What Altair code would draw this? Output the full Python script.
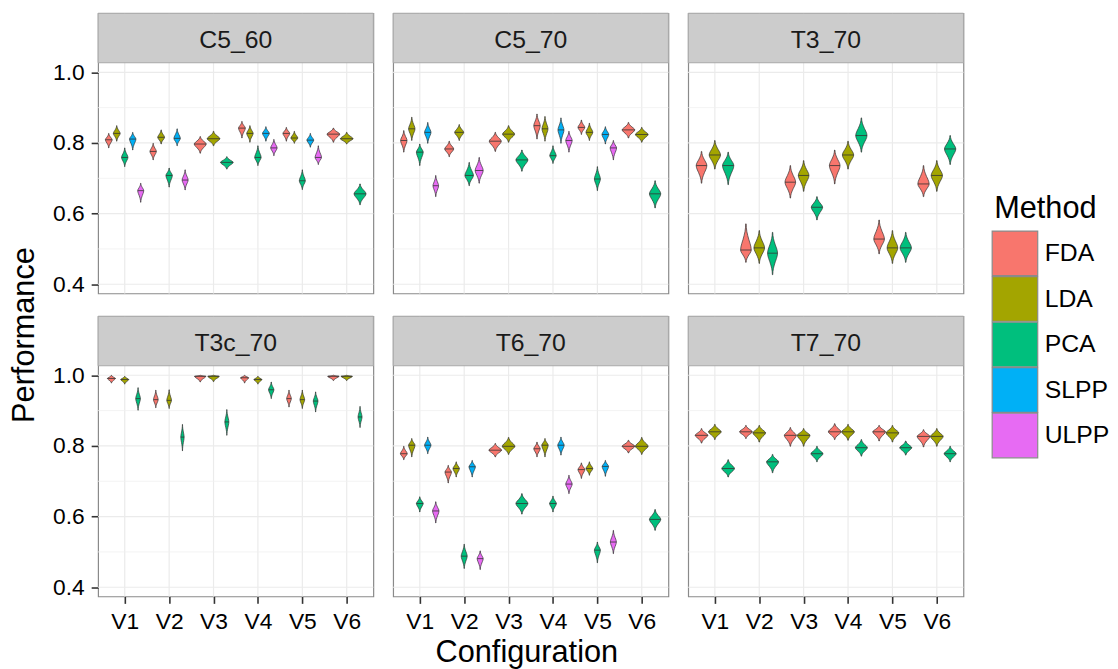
import altair as alt
import pandas as pd

methods = ["FDA", "LDA", "PCA", "SLPP", "ULPP"]
method_colors = ["#F8766D", "#A3A500", "#00BF7D", "#00B0F6", "#E76BF3"]
configs = ["V1", "V2", "V3", "V4", "V5", "V6"]
panels = ["C5_60", "C5_70", "T3_70", "T3c_70", "T6_70", "T7_70"]
y_ticks = [0.4, 0.6, 0.8, 1.0]
y_minor = [0.5, 0.7, 0.9]

# (configuration, method, lower end, median, upper end, relative peak density)
c5_60 = [
    ("V1", "FDA", 0.786, 0.809, 0.827, 0.85), ("V1", "LDA", 0.805, 0.827, 0.849, 0.85),
    ("V1", "PCA", 0.733, 0.759, 0.786, 0.8), ("V1", "SLPP", 0.780, 0.811, 0.830, 0.8),
    ("V1", "ULPP", 0.632, 0.665, 0.686, 0.75),
    ("V2", "FDA", 0.752, 0.776, 0.799, 0.8), ("V2", "LDA", 0.797, 0.816, 0.837, 0.85),
    ("V2", "PCA", 0.675, 0.708, 0.729, 0.8), ("V2", "SLPP", 0.792, 0.813, 0.840, 0.8),
    ("V2", "ULPP", 0.667, 0.695, 0.724, 0.75),
    ("V3", "FDA", 0.771, 0.797, 0.818, 0.9), ("V3", "LDA", 0.792, 0.812, 0.833, 0.95),
    ("V3", "PCA", 0.726, 0.745, 0.761, 0.95),
    ("V4", "FDA", 0.814, 0.842, 0.861, 0.85), ("V4", "LDA", 0.802, 0.827, 0.849, 0.8),
    ("V4", "PCA", 0.736, 0.759, 0.792, 0.8), ("V4", "SLPP", 0.805, 0.827, 0.846, 0.85),
    ("V4", "ULPP", 0.764, 0.786, 0.810, 0.8),
    ("V5", "FDA", 0.805, 0.827, 0.844, 0.85), ("V5", "LDA", 0.799, 0.814, 0.833, 0.85),
    ("V5", "PCA", 0.668, 0.693, 0.724, 0.75), ("V5", "SLPP", 0.788, 0.808, 0.827, 0.85),
    ("V5", "ULPP", 0.739, 0.759, 0.792, 0.8),
    ("V6", "FDA", 0.802, 0.825, 0.842, 0.95), ("V6", "LDA", 0.797, 0.812, 0.830, 0.95),
    ("V6", "PCA", 0.625, 0.656, 0.684, 0.9),
]
c5_70 = [
    ("V1", "FDA", 0.774, 0.807, 0.835, 0.8), ("V1", "LDA", 0.807, 0.840, 0.873, 0.8),
    ("V1", "PCA", 0.736, 0.774, 0.797, 0.85), ("V1", "SLPP", 0.799, 0.830, 0.858, 0.8),
    ("V1", "ULPP", 0.648, 0.679, 0.708, 0.7),
    ("V2", "FDA", 0.761, 0.783, 0.805, 0.9), ("V2", "LDA", 0.807, 0.830, 0.852, 0.9),
    ("V2", "PCA", 0.679, 0.708, 0.745, 0.85), ("V2", "ULPP", 0.686, 0.722, 0.759, 0.8),
    ("V3", "FDA", 0.776, 0.805, 0.830, 0.9), ("V3", "LDA", 0.802, 0.825, 0.849, 0.9),
    ("V3", "PCA", 0.720, 0.752, 0.780, 0.9),
    ("V4", "FDA", 0.811, 0.849, 0.882, 0.8), ("V4", "LDA", 0.805, 0.840, 0.875, 0.75),
    ("V4", "PCA", 0.742, 0.764, 0.792, 0.8), ("V4", "SLPP", 0.799, 0.837, 0.871, 0.75),
    ("V4", "ULPP", 0.774, 0.807, 0.833, 0.8),
    ("V5", "FDA", 0.824, 0.844, 0.865, 0.85), ("V5", "LDA", 0.807, 0.830, 0.856, 0.85),
    ("V5", "PCA", 0.665, 0.698, 0.733, 0.75), ("V5", "SLPP", 0.797, 0.824, 0.846, 0.85),
    ("V5", "ULPP", 0.752, 0.786, 0.807, 0.8),
    ("V6", "FDA", 0.814, 0.837, 0.858, 0.95), ("V6", "LDA", 0.802, 0.824, 0.844, 0.95),
    ("V6", "PCA", 0.616, 0.656, 0.693, 0.85),
]
t3_70 = [
    ("V1", "FDA", 0.686, 0.736, 0.776, 0.8), ("V1", "LDA", 0.726, 0.766, 0.807, 0.85),
    ("V1", "PCA", 0.682, 0.736, 0.774, 0.85),
    ("V2", "FDA", 0.462, 0.497, 0.571, 0.8), ("V2", "LDA", 0.459, 0.503, 0.552, 0.8),
    ("V2", "PCA", 0.427, 0.488, 0.547, 0.75),
    ("V3", "FDA", 0.644, 0.689, 0.736, 0.8), ("V3", "LDA", 0.663, 0.708, 0.750, 0.8),
    ("V3", "PCA", 0.582, 0.618, 0.648, 0.85),
    ("V4", "FDA", 0.684, 0.736, 0.780, 0.8), ("V4", "LDA", 0.726, 0.766, 0.805, 0.85),
    ("V4", "PCA", 0.774, 0.821, 0.871, 0.85),
    ("V5", "FDA", 0.486, 0.528, 0.582, 0.8), ("V5", "LDA", 0.459, 0.503, 0.552, 0.8),
    ("V5", "PCA", 0.462, 0.503, 0.547, 0.85),
    ("V6", "FDA", 0.648, 0.684, 0.736, 0.85), ("V6", "LDA", 0.663, 0.708, 0.750, 0.85),
    ("V6", "PCA", 0.739, 0.783, 0.821, 0.85),
]
t3c_70 = [
    ("V1", "FDA", 0.978, 0.991, 1.000, 0.6), ("V1", "LDA", 0.975, 0.988, 0.997, 0.6),
    ("V1", "PCA", 0.901, 0.934, 0.965, 0.35),
    ("V2", "FDA", 0.908, 0.931, 0.958, 0.35), ("V2", "LDA", 0.906, 0.929, 0.959, 0.35),
    ("V2", "PCA", 0.786, 0.825, 0.861, 0.25),
    ("V3", "FDA", 0.981, 0.997, 1.000, 0.85), ("V3", "LDA", 0.982, 0.997, 1.000, 0.85),
    ("V3", "PCA", 0.830, 0.868, 0.903, 0.3),
    ("V4", "FDA", 0.978, 0.993, 1.000, 0.6), ("V4", "LDA", 0.975, 0.988, 0.997, 0.6),
    ("V4", "PCA", 0.934, 0.959, 0.981, 0.4),
    ("V5", "FDA", 0.910, 0.934, 0.958, 0.35), ("V5", "LDA", 0.906, 0.931, 0.958, 0.35),
    ("V5", "PCA", 0.896, 0.927, 0.953, 0.35),
    ("V6", "FDA", 0.985, 0.997, 1.000, 0.85), ("V6", "LDA", 0.985, 0.997, 1.000, 0.85),
    ("V6", "PCA", 0.852, 0.882, 0.912, 0.3),
]
t6_70 = [
    ("V1", "FDA", 0.761, 0.778, 0.799, 0.85), ("V1", "LDA", 0.769, 0.802, 0.821, 0.8),
    ("V1", "PCA", 0.613, 0.637, 0.656, 0.85), ("V1", "SLPP", 0.778, 0.802, 0.825, 0.8),
    ("V1", "ULPP", 0.582, 0.616, 0.642, 0.8),
    ("V2", "FDA", 0.695, 0.726, 0.745, 0.8), ("V2", "LDA", 0.712, 0.736, 0.755, 0.8),
    ("V2", "PCA", 0.453, 0.488, 0.522, 0.75), ("V2", "SLPP", 0.712, 0.741, 0.759, 0.8),
    ("V2", "ULPP", 0.450, 0.481, 0.503, 0.75),
    ("V3", "FDA", 0.769, 0.788, 0.807, 0.95), ("V3", "LDA", 0.776, 0.799, 0.824, 0.95),
    ("V3", "PCA", 0.607, 0.637, 0.665, 0.9),
    ("V4", "FDA", 0.769, 0.792, 0.811, 0.8), ("V4", "LDA", 0.769, 0.802, 0.821, 0.8),
    ("V4", "PCA", 0.613, 0.637, 0.658, 0.85), ("V4", "SLPP", 0.774, 0.802, 0.825, 0.8),
    ("V4", "ULPP", 0.665, 0.692, 0.717, 0.8),
    ("V5", "FDA", 0.708, 0.733, 0.752, 0.85), ("V5", "LDA", 0.717, 0.736, 0.755, 0.85),
    ("V5", "PCA", 0.469, 0.505, 0.528, 0.75), ("V5", "SLPP", 0.714, 0.742, 0.759, 0.8),
    ("V5", "ULPP", 0.495, 0.528, 0.561, 0.75),
    ("V6", "FDA", 0.780, 0.799, 0.816, 0.95), ("V6", "LDA", 0.776, 0.799, 0.824, 0.95),
    ("V6", "PCA", 0.561, 0.592, 0.620, 0.85),
]
t7_70 = [
    ("V1", "FDA", 0.808, 0.830, 0.849, 0.95), ("V1", "LDA", 0.818, 0.840, 0.861, 0.95),
    ("V1", "PCA", 0.712, 0.736, 0.761, 0.95),
    ("V2", "FDA", 0.821, 0.840, 0.858, 0.95), ("V2", "LDA", 0.811, 0.837, 0.858, 0.95),
    ("V2", "PCA", 0.724, 0.755, 0.776, 0.9),
    ("V3", "FDA", 0.799, 0.830, 0.852, 0.9), ("V3", "LDA", 0.799, 0.830, 0.849, 0.95),
    ("V3", "PCA", 0.755, 0.778, 0.799, 0.9),
    ("V4", "FDA", 0.818, 0.840, 0.863, 0.95), ("V4", "LDA", 0.816, 0.840, 0.861, 0.95),
    ("V4", "PCA", 0.771, 0.795, 0.818, 0.9),
    ("V5", "FDA", 0.814, 0.840, 0.858, 0.95), ("V5", "LDA", 0.811, 0.837, 0.858, 0.95),
    ("V5", "PCA", 0.774, 0.795, 0.814, 0.9),
    ("V6", "FDA", 0.797, 0.827, 0.846, 0.95), ("V6", "LDA", 0.799, 0.827, 0.849, 0.95),
    ("V6", "PCA", 0.755, 0.778, 0.799, 0.9),
]
panel_rows = [c5_60, c5_70, t3_70, t3c_70, t6_70, t7_70]

# violin outline template: relative position along the violin and relative half-width
profile_t = [-1.0, -0.85, -0.7, -0.55, -0.4, -0.25, -0.12, 0.0, 0.12, 0.25, 0.4, 0.55, 0.7, 0.85, 1.0]
profile_w = [0.04, 0.08, 0.18, 0.35, 0.55, 0.78, 0.94, 1.0, 0.94, 0.78, 0.55, 0.35, 0.18, 0.08, 0.04]

PW, PH, SH = 278, 233, 50
FONT = "Liberation Sans"
DODGE = 0.9
Y_LO, Y_HI = 0.374, 1.027
# the strip sits on top of the plotting area, in the same view
Y_TOP = Y_HI + (Y_HI - Y_LO) * SH / PH
ROWGAP = 17
GRID_H = 2 * (PH + SH) + ROWGAP


def build(name, rows):
    shape, meds = [], []
    for ci, cfg in enumerate(configs, start=1):
        grp = sorted([r for r in rows if r[0] == cfg], key=lambda r: methods.index(r[1]))
        n = len(grp)
        for k, (c, m, lo, md, hi, pk) in enumerate(grp):
            center = ci - DODGE / 2 + (k + 0.5) * DODGE / n
            hw = DODGE / n / 2 * pk
            vid = f"{name}-{c}-{m}"
            for t, w in zip(profile_t, profile_w):
                yv = md + t * (hi - md) if t >= 0 else md + t * (md - lo)
                shape.append({"vid": vid, "Method": m, "perf": yv,
                              "xl": center - hw * w, "xr": center + hw * w})
            meds.append({"vid": vid, "Method": m, "med": md,
                         "mxl": center - hw, "mxr": center + hw})
    return pd.DataFrame(shape), pd.DataFrame(meds)


xscale = alt.Scale(domain=[0.4, 6.6], nice=False, zero=False)
yscale = alt.Scale(domain=[Y_LO, Y_TOP], nice=False, zero=False)
cscale = alt.Scale(domain=methods, range=method_colors)
cfg_pos = pd.DataFrame({"pos": [i + 1 for i in range(len(configs))]})

NOBOX = alt.ViewBackground(stroke="transparent", strokeWidth=0)


def panel(name, rows, left, bottom):
    shape, meds = build(name, rows)
    xaxis = alt.Axis(values=cfg_pos["pos"].tolist(), labelExpr="'V' + datum.value",
                     title=None, grid=False, domain=False) if bottom else None
    yaxis = alt.Axis(values=y_ticks, format=".1f", title=None, grid=False,
                     domain=False) if left else None
    lab = pd.DataFrame({"p": [name]})
    vgrid = alt.Chart(cfg_pos).mark_rule(color="#EBEBEB", strokeWidth=1.2).encode(
        x=alt.X("pos:Q", scale=xscale, axis=xaxis))
    hgrid = alt.Chart(pd.DataFrame({"g": y_ticks})).mark_rule(
        color="#EBEBEB", strokeWidth=1.2).encode(
        y=alt.Y("g:Q", scale=yscale, axis=yaxis))
    minor = alt.Chart(pd.DataFrame({"m": y_minor})).mark_rule(
        color="#F0F0F0", strokeWidth=0.8).encode(
        y=alt.Y("m:Q", scale=yscale, axis=yaxis))
    vio = alt.Chart(shape).mark_area(
        orient="horizontal", stroke="#333333", strokeWidth=0.7, opacity=1).encode(
        y=alt.Y("perf:Q", scale=yscale, axis=yaxis),
        x=alt.X("xl:Q", scale=xscale, axis=xaxis, stack=None),
        x2="xr:Q",
        color=alt.Color("Method:N", scale=cscale, legend=None),
        detail="vid:N",
    )
    med = alt.Chart(meds).mark_rule(color="#333333", strokeWidth=0.8).encode(
        y=alt.Y("med:Q", scale=yscale, axis=yaxis),
        x=alt.X("mxl:Q", scale=xscale, axis=xaxis),
        x2="mxr:Q",
    )
    strip_bg = alt.Chart(lab).mark_rect(fill="#CCCCCC", stroke="#A8A8A8", strokeWidth=1).encode(
        x=alt.value(0), x2=alt.value(PW), y=alt.value(0), y2=alt.value(SH))
    strip_tx = alt.Chart(lab).mark_text(
        fontSize=25, font=FONT, color="#1A1A1A", baseline="middle").encode(
        text="p:N", x=alt.value(PW / 2), y=alt.value(SH / 2 + 2))
    return alt.layer(vgrid, hgrid, minor, vio, med, strip_bg, strip_tx).properties(
        width=PW, height=PH + SH)


cells = [panel(p, r, i % 3 == 0, i >= 3) for i, (p, r) in enumerate(zip(panels, panel_rows))]
row1 = alt.hconcat(*cells[:3], spacing=16)
row2 = alt.hconcat(*cells[3:], spacing=16)
grid = alt.vconcat(row1, row2, spacing=ROWGAP)

xtitle = alt.Chart(pd.DataFrame({"t": ["Configuration"]})).mark_text(
    fontSize=31, font=FONT, color="#000000", baseline="middle").encode(
    text="t:N", x=alt.value((3 * PW + 32) / 2), y=alt.value(10)
).properties(width=3 * PW + 32, height=20, view=NOBOX)

right = alt.vconcat(grid, xtitle, spacing=3)

ytitle = alt.Chart(pd.DataFrame({"t": ["Performance"]})).mark_text(
    fontSize=31, font=FONT, color="#000000", angle=270, baseline="middle").encode(
    text="t:N", x=alt.value(17), y=alt.value(325)
).properties(width=36, height=GRID_H, view=NOBOX)

# legend drawn as its own small view: keys, labels and title
leg_df = pd.DataFrame({"Method": methods})
key_y = alt.Y("Method:N", sort=methods, axis=None,
              scale=alt.Scale(domain=methods, range=[220, 449], paddingInner=0.02, paddingOuter=0))
leg_keys = alt.Chart(leg_df).mark_rect(stroke="#8A8A8A", strokeWidth=1.2).encode(
    y=key_y, x=alt.value(0), x2=alt.value(46),
    color=alt.Color("Method:N", scale=cscale, legend=None))
leg_labels = alt.Chart(leg_df).mark_text(
    align="left", baseline="middle", fontSize=25, font=FONT, color="#000000").encode(
    y=key_y, x=alt.value(53), text="Method:N")
leg_title = alt.Chart(pd.DataFrame({"t": ["Method"]})).mark_text(
    align="left", baseline="alphabetic", fontSize=31, font=FONT, color="#000000").encode(
    text="t:N", x=alt.value(2), y=alt.value(207))
legend_view = alt.layer(leg_keys, leg_labels, leg_title).properties(
    width=116, height=GRID_H, view=NOBOX)

main = alt.hconcat(ytitle, right, spacing=8)
chart = alt.hconcat(main, legend_view, spacing=26).properties(
    padding={"left": 0, "top": 0, "right": 0, "bottom": 0}
).configure(font=FONT).configure_view(
    stroke="#8A8A8A", strokeWidth=1.2
).configure_axis(
    tickColor="#333333", tickWidth=1.6, tickSize=7, labelFont=FONT,
    labelFontSize=23, labelColor="#000000", labelPadding=7,
)

chart.save("out.html", embed_options={"renderer": "svg", "actions": False})
